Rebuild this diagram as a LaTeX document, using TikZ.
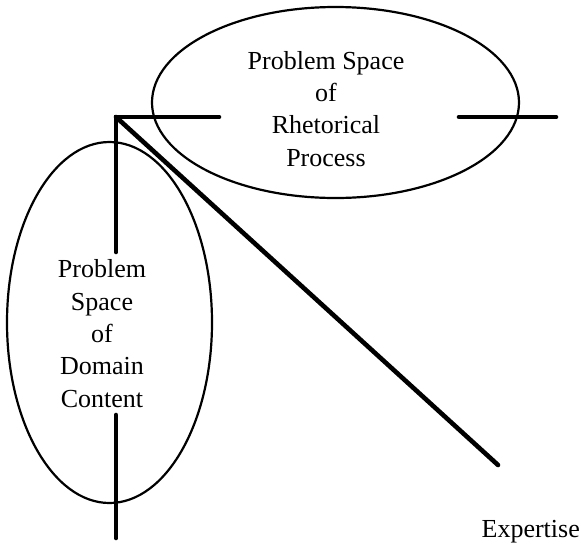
\documentclass[tikz,border=0pt]{standalone}
\usepackage{fontspec}
\setmainfont{Liberation Serif}
\tikzset{
    bar/.style={line width=4.6pt,line cap=round},
    rim/.style={line width=2.2pt},
    word/.style={align=center,inner sep=0pt,font=\fontsize{26}{32.3}\selectfont}
}

\begin{document}
\begin{tikzpicture}[x=1pt,y=-1pt]
    \useasboundingbox (0,0) rectangle (581,547);
    % the two problem spaces
    \draw[rim] (335.5,102.5) ellipse [x radius=183.5,y radius=95.5];
    \draw[rim] (109.5,322.5) ellipse [x radius=102.5,y radius=180.5];
    \node[word,anchor=base] (rhet) at (326,166) {Problem Space\\of\\Rhetorical\\Process};
    \node[word,anchor=base] (dom) at (102,407) {Problem\\Space\\of\\Domain\\Content};
    \node[word,anchor=base east] (exp) at (580,537) {Expertise};
    % axes
    \coordinate (o) at (116,117);
    \coordinate (xa) at (219,117);
    \coordinate (xb) at (459,117);
    \coordinate (xc) at (556,117);
    \coordinate (ya) at (116,252);
    \coordinate (yb) at (116,415);
    \coordinate (yc) at (116,538);
    \coordinate (z) at (498,465);
    \draw[bar] (xa) -- (o) -- (ya);
    \draw[bar] (xb) -- (xc);
    \draw[bar] (yb) -- (yc);
    \draw[bar] (o) -- (z);
\end{tikzpicture}
\end{document}
